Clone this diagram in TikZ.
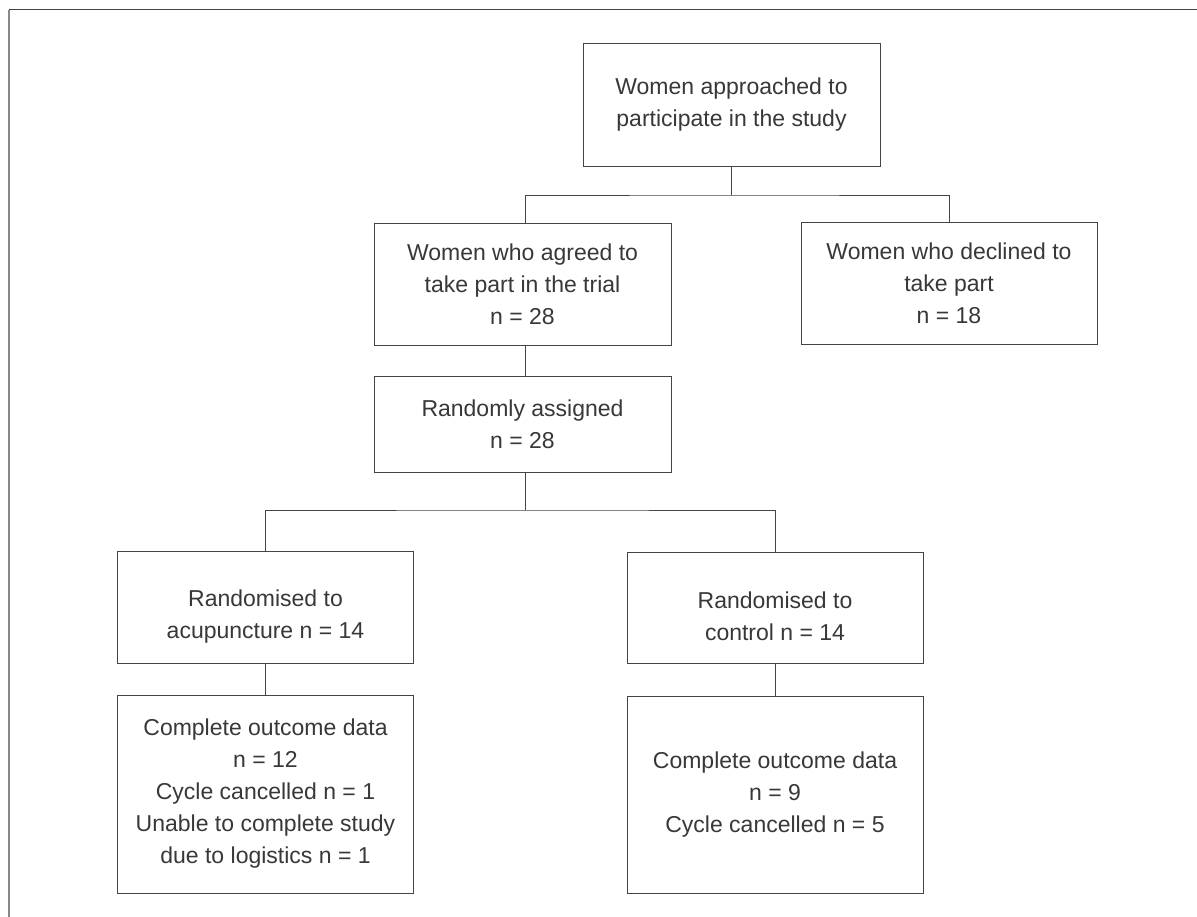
\documentclass[tikz,border=0pt]{standalone}
\usepackage{fontspec}
\setmainfont{Liberation Sans}
\definecolor{linec}{HTML}{444444}
\definecolor{textc}{HTML}{383838}
\definecolor{framec}{HTML}{888888}
\begin{document}
\begin{tikzpicture}[x=1pt,y=-1pt,
  box/.style={draw=linec, line width=0.9pt, rectangle, inner sep=0pt, align=center,
    text=textc, font=\fontsize{23}{32}\selectfont},
  conn/.style={draw=linec, line width=0.9pt}]
\useasboundingbox (0,0) rectangle (1197,917);
\fill[white] (0,0) rectangle (1197,917);
% frame
\draw[linec, line width=1pt] (9,10) -- (1197,10);
\draw[framec, line width=1.4pt] (9,10) -- (9,917);
% boxes
\node[box, minimum width=297, minimum height=123] (b1) at (731.5,104.5)
  {Women approached to\\participate in the study};
\node[box, minimum width=297, minimum height=122] (b2) at (522.5,284)
  {Women who agreed to\\take part in the trial\\n = 28};
\node[box, minimum width=296, minimum height=122] (b3) at (949,283)
  {Women who declined to\\take part\\n = 18};
\node[box, minimum width=297, minimum height=96] (b4) at (522.5,424)
  {Randomly assigned\\n = 28};
\node[box, minimum width=296, minimum height=112] (b5) at (265.5,607)
  {\rule{0pt}{35pt}Randomised to\\acupuncture n = 14};
\node[box, minimum width=296, minimum height=111] (b6) at (775,607.5)
  {\rule{0pt}{35pt}Randomised to\\control n = 14};
\node[box, minimum width=296, minimum height=198] (b7) at (265.5,794)
  {Complete outcome data\\n = 12\\Cycle cancelled n = 1\\Unable to complete study\\due to logistics n = 1};
\node[box, minimum width=296, minimum height=197] (b8) at (775,794.5)
  {Complete outcome data\\n = 9\\Cycle cancelled n = 5};
% connectors
\coordinate (j1) at (731.5,195);
\coordinate (j2) at (525,510);
\draw[conn] (b1.south) -- (j1);
\draw[conn] (b2.north -| 525,0) |- (j1) -| (b3.north);
\draw[conn] (b2.south -| 525,0) -- (b4.north -| 525,0);
\draw[conn] (b4.south -| 525,0) -- (j2);
\draw[conn] (b5.north) |- (j2) -| (b6.north);
\draw[conn] (b5.south) -- (b7.north);
\draw[conn] (b6.south) -- (b8.north);
\end{tikzpicture}
\end{document}
